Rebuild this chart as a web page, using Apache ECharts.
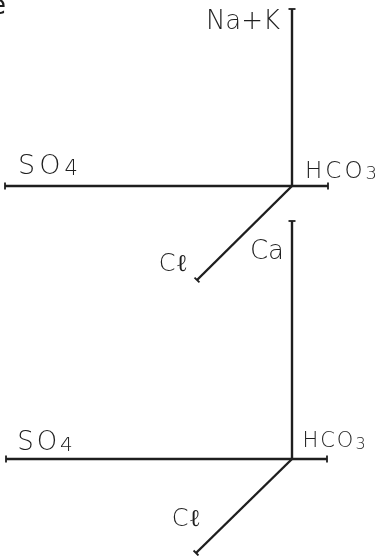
<!DOCTYPE html>
<html>
<head>
<meta charset="utf-8">
<script src="https://cdn.jsdelivr.net/npm/echarts@6/dist/echarts.min.js"></script>
<style>
  html, body { margin: 0; padding: 0; background: #fff; }
  #main { width: 375px; height: 556px; }
</style>
</head>
<body>
<div id="main"></div>
<script>
// two ion cross diagrams, drawn in page units (0..375 x 0..556)
var topOrigin = [292, 186];
var topLabels = ['Na+K', 'SO4', 'HCO3', 'Cℓ'];
var topEnds = [[292, 9], [5, 186], [328, 186], [197, 280]];

var bottomOrigin = [292, 459];
var bottomLabels = ['Ca', 'SO4', 'HCO3', 'Cℓ'];
var bottomEnds = [[292, 221], [6, 459], [327, 459], [196, 553]];

// label placement (px from the arm end) and lettering
var topOffsets = [[-49, 13], [43, -19], [13, -14], [-24, -15]];
var bottomOffsets = [[-25, 31], [39, -16], [7, -17], [-10, -33]];
var topSizes = [26, 27, 23, 24];
var bottomSizes = [26, 26, 21, 24];
var topGaps = [0, 4, 3, 0];
var bottomGaps = [0, 3, 2, 0];

var ink = '#1e1e1e';

(function () {
    var myChart = echarts.init(document.getElementById('main'));

    // digits become subscripts, letters get a little handwritten spacing
    function rich(text) {
        return text.split('').map(function (ch, k) {
            var last = k === text.length - 1;
            if (/[0-9]/.test(ch)) return '{s|' + ch + '}';
            return '{' + (last ? 'e' : 'c') + '|' + ch + '}';
        }).join('');
    }

    function arms(origin, ends, labels, offsets, sizes, gaps) {
        return ends.map(function (end, i) {
            var dx = end[0] - origin[0];
            var dy = origin[1] - end[1];
            var ang = Math.atan2(dy, dx) * 180 / Math.PI;
            var fs = sizes[i];
            var base = { fontSize: fs, fontFamily: 'DejaVu Sans', fontWeight: 300, color: ink, verticalAlign: 'bottom' };
            return {
                type: 'line',
                silent: true,
                symbol: 'rect',
                lineStyle: { color: ink, width: 2.4 },
                itemStyle: { color: ink },
                data: [
                    { value: origin, symbol: 'none' },
                    {
                        value: end,
                        symbol: 'rect',
                        symbolSize: [7, 1.8],
                        symbolRotate: ang + 90,
                        label: {
                            show: true,
                            position: 'inside',
                            offset: offsets[i],
                            formatter: rich(labels[i]),
                            align: 'center',
                            verticalAlign: 'middle',
                            rich: {
                                c: Object.assign({}, base, { padding: [0, gaps[i], 0, 0] }),
                                e: Object.assign({}, base),
                                s: Object.assign({}, base, { fontSize: Math.round(fs * 0.78), padding: [0, 0, 0, 0] })
                            }
                        }
                    }
                ]
            };
        });
    }

    var option = {
        backgroundColor: '#fff',
        animation: false,
        grid: { left: 0, right: 0, top: 0, bottom: 0 },
        xAxis: { type: 'value', min: 0, max: 375, show: false },
        yAxis: { type: 'value', min: 0, max: 556, inverse: true, show: false },
        graphic: [{
            type: 'text',
            left: -10,
            top: -6,
            style: { text: 'e', fontSize: 26, fontFamily: 'DejaVu Sans', fill: ink }
        }],
        series: arms(topOrigin, topEnds, topLabels, topOffsets, topSizes, topGaps)
            .concat(arms(bottomOrigin, bottomEnds, bottomLabels, bottomOffsets, bottomSizes, bottomGaps))
    };

    myChart.setOption(option);
    window.addEventListener('resize', function () {
        myChart.resize();
    });
})();
</script>
</body>
</html>
